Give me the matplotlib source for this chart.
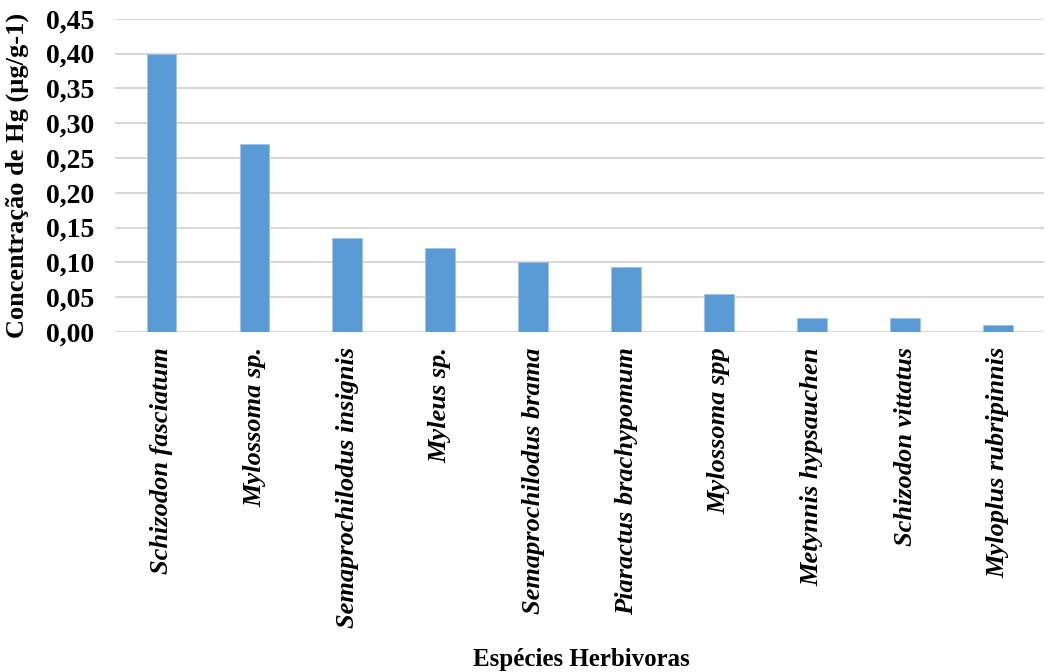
import matplotlib.pyplot as plt
import numpy as np

# Hg concentration per herbivorous species
species = ["Schizodon fasciatum", "Mylossoma sp.", "Semaprochilodus insignis",
           "Myleus sp.", "Semaprochilodus brama", "Piaractus brachypomum",
           "Mylossoma spp", "Metynnis hypsauchen", "Schizodon vittatus",
           "Myloplus rubripinnis"]
hg_values = [0.40, 0.27, 0.135, 0.12, 0.10, 0.094, 0.055, 0.02, 0.02, 0.01]
yticks = np.arange(0, 0.451, 0.05)

plt.rcParams['font.family'] = ['Liberation Serif', 'DejaVu Serif']

fig = plt.figure(figsize=(10.55, 6.72), dpi=100)
ax = fig.add_axes([0.109, 0.506, 0.881, 0.466])

x = np.arange(len(species))
ax.bar(x, hg_values, width=0.32, color="#5B9BD5", edgecolor="#9DC3E6",
       linewidth=0.6, zorder=3)

ax.set_ylim(0, 0.45)
ax.set_xlim(-0.5, len(species) - 0.5)
ax.set_yticks(yticks)
ax.set_yticklabels([f"{v:.2f}".replace(".", ",") for v in yticks],
                   fontsize=20, fontweight="bold")
ax.set_xticks(x)
ax.set_xticklabels(species, rotation=90, fontsize=19, fontweight="bold",
                   fontstyle="italic")
ax.tick_params(axis="both", length=0)
ax.tick_params(axis="y", pad=15)
ax.tick_params(axis="x", pad=11)

ax.grid(axis="y", color="#D9D9D9", linewidth=1.5, zorder=0)
for s in ax.spines.values():
    s.set_visible(False)

ax.set_ylabel("Concentração de Hg (µg/g-1)", fontsize=19, fontweight="bold")
ax.yaxis.set_label_coords(-0.092, 0.5)
fig.text(0.551, 0.019, "Espécies Herbivoras", ha="center", va="center",
         fontsize=18, fontweight="bold")

fig.savefig("out.png", dpi=100)
